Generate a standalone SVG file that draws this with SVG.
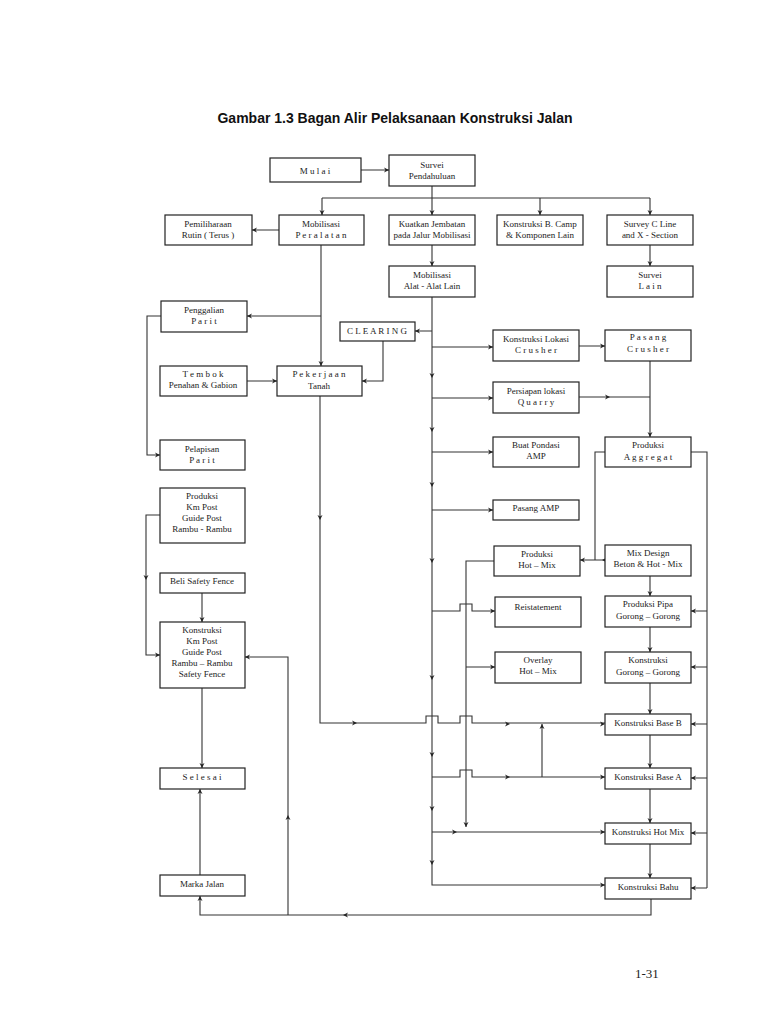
<svg xmlns="http://www.w3.org/2000/svg" xmlns:xlink="http://www.w3.org/1999/xlink" width="768" height="1024" viewBox="0 0 768 1024">
<style>
.b{fill:#fff;stroke:#222;stroke-width:1.2}
.t{font-family:"Liberation Serif",serif;font-size:9px;fill:#222;text-anchor:middle}
.l{fill:none;stroke:#333;stroke-width:1.1}
</style>
<defs>
<path id="ah" d="M0,0 L-5,-2.5 L-3.5,0 L-5,2.5Z" fill="#222"/>
</defs>
<rect width="768" height="1024" fill="#fff"/>
<text x="395" y="123" font-family="Liberation Sans,Arial,sans-serif" font-size="14" font-weight="bold" text-anchor="middle" fill="#111">Gambar 1.3  Bagan Alir Pelaksanaan Konstruksi Jalan</text>
<text x="635" y="978" font-family="Liberation Serif,serif" font-size="13" fill="#222">1-31</text>

<g id="connectors">
<path class="l" d="M361,170H389 M432,186V198 M322,198H650 M322,198V215 M432,198V215 M540,198V215 M650,198V215"/>
<path class="l" d="M279,230H252 M432,245V266 M650,245V266"/>
<path class="l" d="M321,245V366 M321,316H247 M161,316H147V455H160"/>
<path class="l" d="M383,341V381H362 M247,381H277"/>
<path class="l" d="M320,396V723H426v-7h12v7H460v-7h12v7H605"/>
<path class="l" d="M432,297V885H605 M432,331H415 M432,347H493 M432,398H493 M432,452H493 M432,510H493 M432,611H460v-7h12v7H495 M432,777H460v-7h12v7H605 M432,832H605"/>
<path class="l" d="M579,346H605 M579,397H650 M650,361V437"/>
<path class="l" d="M605,452H595V560 M605,560H580"/>
<path class="l" d="M691,452H707V888 M707,611H691 M707,667H691 M707,724H691 M707,778H691 M707,833H691 M707,888H691"/>
<path class="l" d="M650,576V596 M650,627V652 M650,683V714 M650,735V768 M650,789V823 M650,844V878"/>
<path class="l" d="M494,561H466V827 M466,667H495 M542,777V724"/>
<path class="l" d="M651,899V915H200V896 M288,915V657H245 M200,875V789 M202,688V768 M202,593V622 M160,515H146V655H160"/>
<g>
<use xlink:href="#ah" transform="translate(389,170)"/>
<use xlink:href="#ah" transform="translate(322,215) rotate(90)"/>
<use xlink:href="#ah" transform="translate(432,215) rotate(90)"/>
<use xlink:href="#ah" transform="translate(540,215) rotate(90)"/>
<use xlink:href="#ah" transform="translate(650,215) rotate(90)"/>
<use xlink:href="#ah" transform="translate(252,230) rotate(180)"/>
<use xlink:href="#ah" transform="translate(432,266) rotate(90)"/>
<use xlink:href="#ah" transform="translate(650,266) rotate(90)"/>
<use xlink:href="#ah" transform="translate(321,366) rotate(90)"/>
<use xlink:href="#ah" transform="translate(247,316) rotate(180)"/>
<use xlink:href="#ah" transform="translate(160,455)"/>
<use xlink:href="#ah" transform="translate(362,381) rotate(180)"/>
<use xlink:href="#ah" transform="translate(277,381)"/>
<use xlink:href="#ah" transform="translate(320,520) rotate(90)"/>
<use xlink:href="#ah" transform="translate(357,723)"/>
<use xlink:href="#ah" transform="translate(510,724)"/>
<use xlink:href="#ah" transform="translate(605,724)"/>
<use xlink:href="#ah" transform="translate(415,331) rotate(180)"/>
<use xlink:href="#ah" transform="translate(493,347)"/>
<use xlink:href="#ah" transform="translate(493,398)"/>
<use xlink:href="#ah" transform="translate(493,452)"/>
<use xlink:href="#ah" transform="translate(493,510)"/>
<use xlink:href="#ah" transform="translate(495,611)"/>
<use xlink:href="#ah" transform="translate(510,777)"/>
<use xlink:href="#ah" transform="translate(605,777)"/>
<use xlink:href="#ah" transform="translate(457,832)"/>
<use xlink:href="#ah" transform="translate(605,832)"/>
<use xlink:href="#ah" transform="translate(605,885)"/>
<use xlink:href="#ah" transform="translate(432,378) rotate(90)"/>
<use xlink:href="#ah" transform="translate(432,432) rotate(90)"/>
<use xlink:href="#ah" transform="translate(432,487) rotate(90)"/>
<use xlink:href="#ah" transform="translate(432,563) rotate(90)"/>
<use xlink:href="#ah" transform="translate(432,680) rotate(90)"/>
<use xlink:href="#ah" transform="translate(432,757) rotate(90)"/>
<use xlink:href="#ah" transform="translate(432,811) rotate(90)"/>
<use xlink:href="#ah" transform="translate(432,865) rotate(90)"/>
<use xlink:href="#ah" transform="translate(605,346)"/>
<use xlink:href="#ah" transform="translate(610,397)"/>
<use xlink:href="#ah" transform="translate(650,437) rotate(90)"/>
<use xlink:href="#ah" transform="translate(580,560) rotate(180)"/>
<use xlink:href="#ah" transform="translate(602,560) rotate(180)"/>
<use xlink:href="#ah" transform="translate(691,611) rotate(180)"/>
<use xlink:href="#ah" transform="translate(691,667) rotate(180)"/>
<use xlink:href="#ah" transform="translate(691,724) rotate(180)"/>
<use xlink:href="#ah" transform="translate(691,778) rotate(180)"/>
<use xlink:href="#ah" transform="translate(691,833) rotate(180)"/>
<use xlink:href="#ah" transform="translate(691,888) rotate(180)"/>
<use xlink:href="#ah" transform="translate(650,596) rotate(90)"/>
<use xlink:href="#ah" transform="translate(650,652) rotate(90)"/>
<use xlink:href="#ah" transform="translate(650,714) rotate(90)"/>
<use xlink:href="#ah" transform="translate(650,768) rotate(90)"/>
<use xlink:href="#ah" transform="translate(650,823) rotate(90)"/>
<use xlink:href="#ah" transform="translate(650,878) rotate(90)"/>
<use xlink:href="#ah" transform="translate(466,827) rotate(90)"/>
<use xlink:href="#ah" transform="translate(495,667)"/>
<use xlink:href="#ah" transform="translate(542,724) rotate(-90)"/>
<use xlink:href="#ah" transform="translate(343,915) rotate(180)"/>
<use xlink:href="#ah" transform="translate(200,896) rotate(-90)"/>
<use xlink:href="#ah" transform="translate(288,815) rotate(-90)"/>
<use xlink:href="#ah" transform="translate(245,657) rotate(180)"/>
<use xlink:href="#ah" transform="translate(200,789) rotate(-90)"/>
<use xlink:href="#ah" transform="translate(202,768) rotate(90)"/>
<use xlink:href="#ah" transform="translate(202,622) rotate(90)"/>
<use xlink:href="#ah" transform="translate(146,580) rotate(90)"/>
<use xlink:href="#ah" transform="translate(160,655)"/>
</g>
</g>

<g id="mulai"><rect class="b" x="270" y="158" width="91" height="24"/><text class="t" x="315" y="174" font-size="12">M u l a i</text></g>
<g id="survei"><rect class="b" x="389" y="155" width="86" height="31"/><text class="t" x="432" y="168">Survei</text><text class="t" x="432" y="179">Pendahuluan</text></g>
<g id="pemeliharaan"><rect class="b" x="165" y="215" width="87" height="30"/><text class="t" x="208" y="227">Pemiliharaan</text><text class="t" x="208" y="238">Rutin ( Terus )</text></g>
<g id="mobperalatan"><rect class="b" x="279" y="215" width="85" height="30"/><text class="t" x="321" y="227">Mobilisasi</text><text class="t" x="321" y="238">P e r a l a t a n</text></g>
<g id="kuatkan"><rect class="b" x="389" y="215" width="86" height="30"/><text class="t" x="432" y="227">Kuatkan Jembatan</text><text class="t" x="432" y="238">pada Jalur Mobilisasi</text></g>
<g id="bcamp"><rect class="b" x="497" y="215" width="86" height="30"/><text class="t" x="540" y="227">Konstruksi B. Camp</text><text class="t" x="540" y="238">&amp; Komponen Lain</text></g>
<g id="surveyc"><rect class="b" x="607" y="215" width="86" height="30"/><text class="t" x="650" y="227">Survey C Line</text><text class="t" x="650" y="238">and X - Section</text></g>
<g id="mobalat"><rect class="b" x="389" y="266" width="86" height="31"/><text class="t" x="432" y="278">Mobilisasi</text><text class="t" x="432" y="289">Alat - Alat Lain</text></g>
<g id="surveilain"><rect class="b" x="607" y="266" width="86" height="31"/><text class="t" x="650" y="278">Survei</text><text class="t" x="650" y="289">L a i n</text></g>
<g id="penggalian"><rect class="b" x="161" y="301" width="86" height="31"/><text class="t" x="204" y="313">Penggalian</text><text class="t" x="204" y="324">P a r i t</text></g>
<g id="clearing"><rect class="b" x="340" y="322" width="75" height="19"/><text class="t" x="377" y="334">C L E A R I N G</text></g>
<g id="lokcrusher"><rect class="b" x="493" y="330" width="86" height="31"/><text class="t" x="536" y="342">Konstruksi Lokasi</text><text class="t" x="536" y="353">C r u s h e r</text></g>
<g id="pasangcrusher"><rect class="b" x="605" y="330" width="86" height="31"/><text class="t" x="648" y="340">P a s a n g</text><text class="t" x="648" y="352">C r u s h e r</text></g>
<g id="tembok"><rect class="b" x="160" y="366" width="87" height="30"/><text class="t" x="203" y="377">T e m b o k</text><text class="t" x="203" y="388">Penahan &amp; Gabion</text></g>
<g id="pekerjaan"><rect class="b" x="277" y="366" width="85" height="30"/><text class="t" x="319" y="377">P e k e r j a a n</text><text class="t" x="319" y="389">Tanah</text></g>
<g id="quarry"><rect class="b" x="493" y="382" width="86" height="31"/><text class="t" x="536" y="394">Persiapan lokasi</text><text class="t" x="536" y="405">Q u a r r y</text></g>
<g id="pelapisan"><rect class="b" x="160" y="440" width="85" height="30"/><text class="t" x="202" y="452">Pelapisan</text><text class="t" x="202" y="463">P a r i t</text></g>
<g id="pondasi"><rect class="b" x="493" y="437" width="86" height="30"/><text class="t" x="536" y="448">Buat Pondasi</text><text class="t" x="536" y="459">AMP</text></g>
<g id="aggregat"><rect class="b" x="605" y="437" width="86" height="30"/><text class="t" x="648" y="448">Produksi</text><text class="t" x="648" y="460">A g g r e g a t</text></g>
<g id="prodkm"><rect class="b" x="160" y="488" width="85" height="55"/><text class="t" x="202" y="499">Produksi</text><text class="t" x="202" y="510">Km Post</text><text class="t" x="202" y="521">Guide Post</text><text class="t" x="202" y="532">Rambu - Rambu</text></g>
<g id="pasangamp"><rect class="b" x="493" y="500" width="86" height="20"/><text class="t" x="536" y="511">Pasang AMP</text></g>
<g id="prodhotmix"><rect class="b" x="494" y="546" width="86" height="30"/><text class="t" x="537" y="557">Produksi</text><text class="t" x="537" y="568">Hot – Mix</text></g>
<g id="mixdesign"><rect class="b" x="605" y="545" width="86" height="31"/><text class="t" x="648" y="556">Mix Design</text><text class="t" x="648" y="567">Beton &amp; Hot - Mix</text></g>
<g id="belisafety"><rect class="b" x="160" y="573" width="85" height="20"/><text class="t" x="202" y="584">Beli Safety Fence</text></g>
<g id="reistatement"><rect class="b" x="495" y="597" width="86" height="30"/><text class="t" x="538" y="610">Reistatement</text></g>
<g id="pipa"><rect class="b" x="605" y="596" width="86" height="31"/><text class="t" x="648" y="607">Produksi Pipa</text><text class="t" x="648" y="619">Gorong – Gorong</text></g>
<g id="konskm"><rect class="b" x="160" y="622" width="85" height="66"/><text class="t" x="202" y="633">Konstruksi</text><text class="t" x="202" y="644">Km Post</text><text class="t" x="202" y="655">Guide Post</text><text class="t" x="202" y="666">Rambu – Rambu</text><text class="t" x="202" y="677">Safety Fence</text></g>
<g id="overlay"><rect class="b" x="495" y="652" width="86" height="31"/><text class="t" x="538" y="663">Overlay</text><text class="t" x="538" y="674">Hot – Mix</text></g>
<g id="gorong"><rect class="b" x="605" y="652" width="86" height="31"/><text class="t" x="648" y="663">Konstruksi</text><text class="t" x="648" y="675">Gorong – Gorong</text></g>
<g id="baseb"><rect class="b" x="605" y="714" width="86" height="21"/><text class="t" x="648" y="726">Konstruksi Base B</text></g>
<g id="selesai"><rect class="b" x="160" y="768" width="85" height="21"/><text class="t" x="202" y="780">S e l e s a i</text></g>
<g id="basea"><rect class="b" x="605" y="768" width="86" height="21"/><text class="t" x="648" y="780">Konstruksi Base A</text></g>
<g id="konshotmix"><rect class="b" x="605" y="823" width="86" height="21"/><text class="t" x="648" y="835">Konstruksi Hot Mix</text></g>
<g id="marka"><rect class="b" x="160" y="875" width="85" height="21"/><text class="t" x="202" y="887">Marka Jalan</text></g>
<g id="bahu"><rect class="b" x="605" y="878" width="86" height="21"/><text class="t" x="648" y="890">Konstruksi Bahu</text></g>
</svg>
